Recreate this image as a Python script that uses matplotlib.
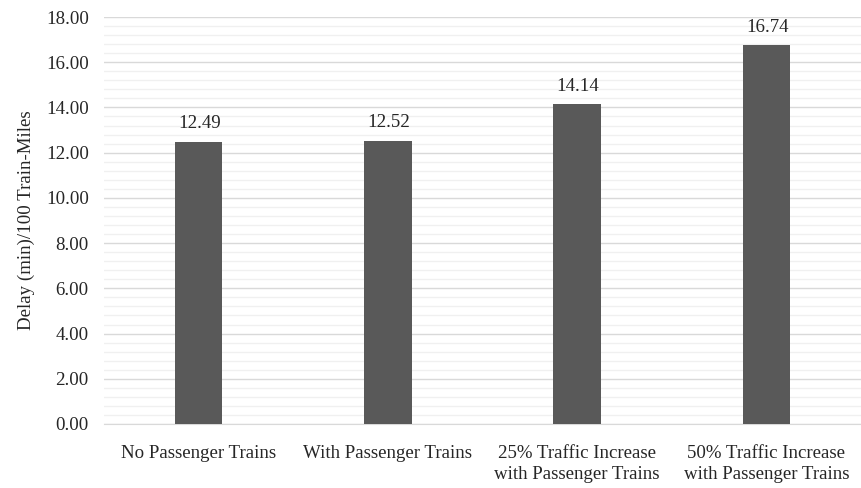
import matplotlib.pyplot as plt
from matplotlib.ticker import MultipleLocator

categories = ["No Passenger Trains", "With Passenger Trains",
              "25% Traffic Increase\nwith Passenger Trains",
              "50% Traffic Increase\nwith Passenger Trains"]
delays = [12.49, 12.52, 14.14, 16.74]

plt.rcParams['font.family'] = ['Liberation Serif', 'DejaVu Serif']
fs = 13.6

fig = plt.figure(figsize=(8.61, 4.88), dpi=100)
ax = fig.add_axes([104 / 861, 1 - 424 / 488, 757 / 861, 407 / 488])

x = range(len(categories))
bars = ax.bar(x, delays, width=0.25, color='#595959', zorder=3)

for b, v in zip(bars, delays):
    ax.text(b.get_x() + b.get_width() / 2 + 0.005, v + 0.42, f"{v:.2f}",
            ha='center', va='bottom', fontsize=fs, color='#262626')

ax.set_xlim(-0.5, len(categories) - 0.5)
ax.set_ylim(0, 18)
ax.yaxis.set_major_locator(MultipleLocator(2))
ax.yaxis.set_minor_locator(MultipleLocator(0.4))
ax.yaxis.set_major_formatter(lambda v, p: f"{v:.2f}")
ax.grid(axis='y', which='major', color='#d9d9d9', linewidth=1, zorder=0)
ax.grid(axis='y', which='minor', color='#f0f0f0', linewidth=1, zorder=0)

ax.set_xticks(list(x))
ax.set_xticklabels(categories, fontsize=fs, color='#262626', linespacing=1.3)
ax.tick_params(axis='y', labelsize=fs, labelcolor='#262626', length=0, pad=11)
ax.tick_params(axis='y', which='minor', length=0)
ax.tick_params(axis='x', length=0, pad=15)
ax.set_ylabel("Delay (min)/100 Train-Miles", fontsize=fs, color='#262626', labelpad=8)

for s in ['top', 'right', 'left']:
    ax.spines[s].set_visible(False)
ax.spines['bottom'].set_color('#d9d9d9')
ax.spines['bottom'].set_zorder(1)

fig.savefig("out.png", dpi=100)
